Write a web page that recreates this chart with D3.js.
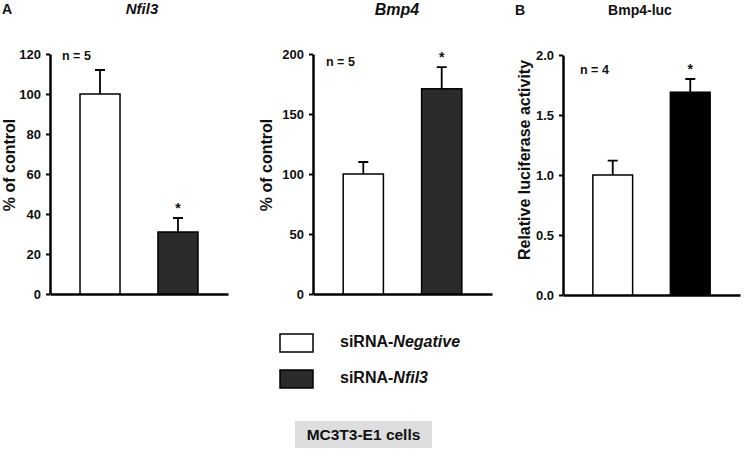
<!DOCTYPE html>
<html><head><meta charset="utf-8">
<script src="https://cdn.jsdelivr.net/npm/d3@7"></script>
<style>
body{margin:0;background:#fff;}
svg{display:block;font-family:"Liberation Sans",Arial,Helvetica,sans-serif;font-weight:bold;}
</style></head>
<body>
<svg id="chart" width="745" height="450"></svg>
<script>
// ---- data ----
const groups = ["siRNA-Negative", "siRNA-Nfil3"];
const nfil3Values = [100, 31];
const nfil3Errors = [12, 7];
const nfil3Ticks = [0, 20, 40, 60, 80, 100, 120];
const bmp4Values = [100, 171];
const bmp4Errors = [10, 18];
const bmp4Ticks = [0, 50, 100, 150, 200];
const lucValues = [1.0, 1.69];
const lucErrors = [0.12, 0.11];
const lucTicks = [0, 0.5, 1.0, 1.5, 2.0];
const significant = [false, true];

const svg = d3.select("#chart");

function drawPanel(o) {
  const g = svg.append("g");
  const x = d3.scaleBand().domain(groups).range([o.x0, o.x1]).paddingInner(0.487).paddingOuter(0.385);
  const y = d3.scaleLinear().domain([0, o.ticks[o.ticks.length - 1]]).range([o.yBottom, o.yTop]);

  // y axis
  const ya = g.append("g").attr("transform", `translate(${o.x0},0)`)
    .call(d3.axisLeft(y).tickValues(o.ticks).tickFormat(o.fmt).tickSize(4).tickSizeOuter(0).tickPadding(5));
  ya.select(".domain").attr("stroke", "#000").attr("stroke-width", 2.5);
  ya.selectAll(".tick line").attr("stroke", "#000").attr("stroke-width", 2);
  ya.selectAll(".tick text").attr("fill", "#111").style("font-size", "13px").style("font-weight", "bold")
    .style("font-family", '"Liberation Sans",Arial,sans-serif');

  // x axis (line only)
  const xa = g.append("g").attr("transform", `translate(0,${o.yBottom})`)
    .call(d3.axisBottom(x).tickValues([]).tickSizeOuter(0));
  xa.select(".domain").attr("stroke", "#000").attr("stroke-width", 2.5);

  const data = groups.map((k, i) => ({k, v: o.values[i], e: o.errors[i], sig: significant[i], fill: i === 0 ? "#fff" : o.dark}));

  // error bars
  const cap = 5;
  g.selectAll(".err").data(data).enter().append("path")
    .attr("d", d => {
      const cx = x(d.k) + x.bandwidth() / 2;
      return `M${cx},${y(d.v)}V${y(d.v + d.e)}M${cx - cap},${y(d.v + d.e)}H${cx + cap}`;
    })
    .attr("stroke", "#000").attr("stroke-width", 1.8).attr("fill", "none");

  // bars
  g.selectAll(".bar").data(data).enter().append("rect")
    .attr("x", d => x(d.k)).attr("width", x.bandwidth())
    .attr("y", d => y(d.v)).attr("height", d => y(0) - y(d.v))
    .attr("fill", d => d.fill).attr("stroke", "#000").attr("stroke-width", 1.5);

  // asterisks
  g.selectAll(".sig").data(data.filter(d => d.sig)).enter().append("text")
    .attr("x", d => x(d.k) + x.bandwidth() / 2).attr("y", d => y(d.v + d.e) - 5)
    .attr("text-anchor", "middle").style("font-size", "14px").attr("fill", "#111").text("*");

  // n label
  g.append("text").attr("x", o.nx).attr("y", o.ny).style("font-size", "12.5px").attr("fill", "#111").text(o.n);

  // y label
  g.append("text").attr("transform", `translate(${o.lx},${o.ly}) rotate(-90)`)
    .attr("text-anchor", "middle").style("font-size", "16px").attr("fill", "#111").text(o.label);

  // title
  g.append("text").attr("x", o.tx).attr("y", o.ty).attr("text-anchor", "middle")
    .style("font-size", o.tsize).style("font-style", o.italic ? "italic" : "normal").attr("fill", "#111").text(o.title);
}

drawPanel({x0: 50, x1: 228, yTop: 54, yBottom: 294, ticks: nfil3Ticks, fmt: d3.format("d"),
  values: nfil3Values, errors: nfil3Errors, dark: "#2b2b2b",
  n: "n = 5", nx: 62, ny: 60, label: "% of control", lx: 15, ly: 165,
  title: "Nfil3", tx: 142, ty: 14, italic: true, tsize: "15px"});

drawPanel({x0: 313, x1: 492, yTop: 54, yBottom: 294, ticks: bmp4Ticks, fmt: d3.format("d"),
  values: bmp4Values, errors: bmp4Errors, dark: "#2b2b2b",
  n: "n = 5", nx: 326, ny: 66, label: "% of control", lx: 272, ly: 165,
  title: "Bmp4", tx: 397, ty: 15, italic: true, tsize: "16px"});

drawPanel({x0: 563, x1: 740, yTop: 55, yBottom: 295, ticks: lucTicks, fmt: d3.format(".1f"),
  values: lucValues, errors: lucErrors, dark: "#000",
  n: "n = 4", nx: 580, ny: 74, label: "Relative luciferase activity", lx: 530, ly: 160,
  title: "Bmp4-luc", tx: 640, ty: 15, italic: false, tsize: "14px"});

// panel letters
svg.append("text").attr("x", 2).attr("y", 14).style("font-size", "14px").attr("fill", "#111").text("A");
svg.append("text").attr("x", 515).attr("y", 15).style("font-size", "14px").attr("fill", "#111").text("B");

// legend
const legendFills = ["#fff", "#2b2b2b"];
const legendY = [334, 370];
groups.forEach((k, i) => {
  svg.append("rect").attr("x", 280).attr("y", legendY[i]).attr("width", 33).attr("height", 18)
    .attr("fill", legendFills[i]).attr("stroke", "#000").attr("stroke-width", 1.5);
  const t = svg.append("text").attr("x", 340).attr("y", legendY[i] + 13).style("font-size", "16px").attr("fill", "#111");
  const parts = k.split("-");
  t.append("tspan").text(parts[0] + "-");
  t.append("tspan").style("font-style", "italic").text(parts[1]);
});

// cell label
svg.append("rect").attr("x", 295).attr("y", 421).attr("width", 137).attr("height", 27).attr("fill", "#dedede");
svg.append("text").attr("x", 363.5).attr("y", 440).attr("text-anchor", "middle").style("font-size", "15.5px").attr("fill", "#111").text("MC3T3-E1 cells");
</script>
</body></html>
